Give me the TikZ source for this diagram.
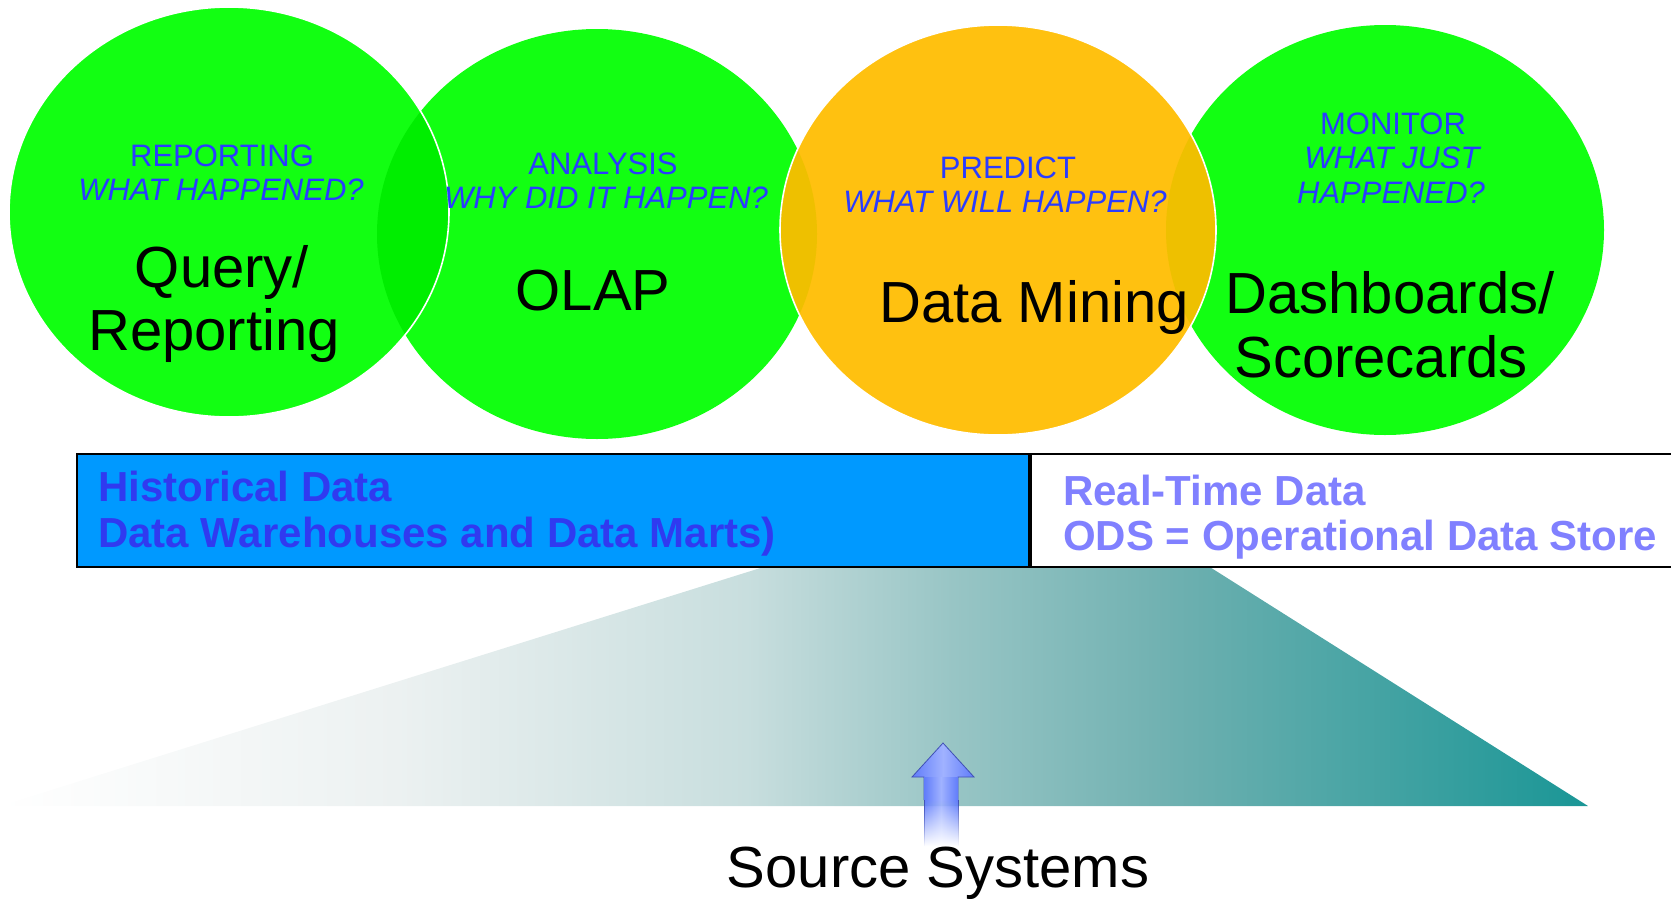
\documentclass[tikz,border=0pt]{standalone}
\usepackage{fontspec}
\setmainfont{Liberation Sans}
\usetikzlibrary{fadings}

\definecolor{lime}{RGB}{18,255,18}
\definecolor{limedark}{RGB}{0,238,0}
\definecolor{amber}{RGB}{255,193,16}
\definecolor{amberdark}{RGB}{238,192,0}
\definecolor{tagblue}{RGB}{42,60,255}
\definecolor{boxblue}{RGB}{0,153,255}
\definecolor{boxtext}{RGB}{48,58,240}
\definecolor{rttext}{RGB}{128,128,255}
\definecolor{tA}{RGB}{236,241,241}
\definecolor{tB}{RGB}{200,222,222}
\definecolor{tC}{RGB}{152,197,197}
\definecolor{tD}{RGB}{110,176,176}
\definecolor{tE}{RGB}{26,150,150}
\definecolor{arrowedge}{RGB}{96,124,250}
\definecolor{arrowmid}{RGB}{160,178,255}
\definecolor{arrowline}{RGB}{64,80,180}

% horizontal white-to-teal ramp for the source funnel
\pgfdeclarehorizontalshading{funnel}{100bp}{%
  color(0bp)=(white); color(25bp)=(white); color(37.5bp)=(tA);
  color(48.5bp)=(tB); color(55bp)=(tC); color(62bp)=(tD);
  color(75bp)=(tE); color(100bp)=(tE)}

% lower end of the arrow shaft fades out downwards
\tikzfading[name=fadedown, top color=transparent!0, bottom color=transparent!100]

\tikzset{
  tag/.style={anchor=base, inner sep=0pt, text=tagblue,
    font=\fontsize{31}{34}\selectfont},
  tagq/.style={tag, font=\fontsize{31}{34}\selectfont\itshape},
  big/.style={anchor=base, inner sep=0pt, text=black,
    font=\fontsize{58}{64}\selectfont},
  boxline/.style={anchor=base west, inner sep=0pt,
    font=\fontsize{42}{46}\selectfont\bfseries},
  outline/.style={draw=white, line width=1.6pt},
  arrowbody/.style={left color=arrowedge, right color=arrowedge,
    middle color=arrowmid},
}

\begin{document}
\begin{tikzpicture}[x=1pt, y=-1pt]
\useasboundingbox (0,0) rectangle (1671,900);
\clip (0,0) rectangle (1671,900);

% ---- the four capability ellipses ----
\def\ellA{(229,212) ellipse [x radius=220, y radius=205]}
\def\ellB{(597,234) ellipse [x radius=220, y radius=205]}
\def\ellC{(998,230) ellipse [x radius=218, y radius=205]}
\def\ellD{(1385,230) ellipse [x radius=219, y radius=205]}

\fill[lime] \ellB;
\fill[lime] \ellD;

\fill[lime] \ellA;
\begin{scope}
  \clip \ellA;
  \fill[limedark] \ellB;
\end{scope}
\draw[outline] \ellA;

\fill[amber] \ellC;
\begin{scope}
  \clip \ellC;
  \fill[amberdark] \ellB;
  \fill[amberdark] \ellD;
\end{scope}
\draw[outline] \ellC;

% ---- ellipse labels ----
\node[tag]  (repT) at (222,166) {REPORTING};
\node[tagq] (repQ) at (221,200) {WHAT HAPPENED?};
\node[big]  (qry1) at (222,287) {Query/};
\node[big]  (qry2) at (214,350) {Reporting};

\node[tag]  (anaT) at (603,174) {ANALYSIS};
\node[tagq] (anaQ) at (606,208) {WHY DID IT HAPPEN?};
\node[big]  (olap) at (593,310) {OLAP};

\node[tag]  (preT) at (1008,178) {PREDICT};
\node[tagq] (preQ) at (1005,212) {WHAT WILL HAPPEN?};
\node[big]  (dmin) at (1034,322) {Data Mining};

\node[tag]  (monT)  at (1393,134) {MONITOR};
\node[tagq] (monQ1) at (1392,168) {WHAT JUST};
\node[tagq] (monQ2) at (1391,203) {HAPPENED?};
\node[big]  (dash1) at (1390,313) {Dashboards/};
\node[big]  (dash2) at (1381,377) {Scorecards};

% ---- source funnel ----
\shade[shading=funnel] (770,565) -- (1205,564) -- (1588,806) -- (0,806) -- cycle;

% ---- data store bands ----
\draw[black, line width=2.6pt, fill=white] (1031,454) rectangle (1700,567);
\draw[black, line width=2.6pt, fill=boxblue] (77,454) rectangle (1029,567);

\node[boxline, text=boxtext] (hist1) at (98,501) {Historical Data};
\node[boxline, text=boxtext] (hist2) at (98,547) {Data Warehouses and Data Marts)};
\node[boxline, text=rttext] (rt1) at (1063,505) {Real-Time Data};
\node[boxline, text=rttext] (rt2) at (1063,550) {ODS = Operational Data Store};

% ---- source systems and upward arrow ----
\node[big] (src) at (938,887) {Source Systems};
\coordinate (tip) at (943,743);
\coordinate (shaftL) at (924,800);
\coordinate (shaftR) at (958,800);
% solid head and upper shaft
\path[arrowbody, draw=arrowline, line width=0.8pt]
  (shaftL) -- (924,777) -- (912,777) -- (tip) -- (974,777)
  -- (958,777) -- (shaftR);
\path[arrowbody] (shaftL) rectangle (958,777);
% fading tail of the shaft
\path[arrowbody, path fading=fadedown] (shaftL) rectangle (958,846);
\path[draw=arrowline, line width=0.8pt, path fading=fadedown]
  (shaftL) -- (924,846) (shaftR) -- (958,846);
\end{tikzpicture}
\end{document}
